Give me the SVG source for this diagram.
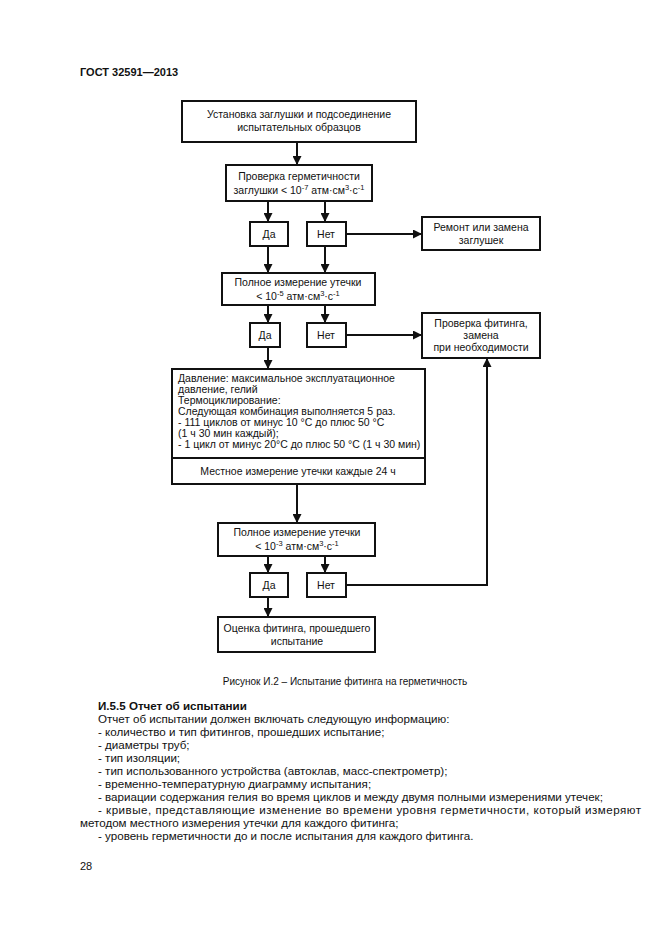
<svg xmlns="http://www.w3.org/2000/svg" width="661" height="936" viewBox="0 0 661 936">
<style>
text{font-family:"Liberation Sans",Arial,sans-serif;fill:#111}
.b{fill:#fff;stroke:#111;stroke-width:2}
.t{font-size:10.5px;text-anchor:middle}
.l{font-size:10.5px}
.c{fill:none;stroke:#111;stroke-width:2}
.body{font-size:11.6px}
.s{font-size:7.5px}
</style>
<defs>
<marker id="ah" viewBox="0 0 10 10" refX="10" refY="5" markerWidth="4.5" markerHeight="4.5" orient="auto" markerUnits="strokeWidth">
<path d="M0,0 L10,5 L0,10 z" fill="#111"/>
</marker>
</defs>
<rect width="661" height="936" fill="#fff"/>
<text x="80" y="76" style="font-size:11px;font-weight:bold">ГОСТ 32591—2013</text>

<g id="connectors">
<path class="c" d="M297,142 V165" marker-end="url(#ah)"/>
<path class="c" d="M268,201 V222" marker-end="url(#ah)"/>
<path class="c" d="M325,201 V222" marker-end="url(#ah)"/>
<path class="c" d="M346,234 H422" marker-end="url(#ah)"/>
<path class="c" d="M268,246 V273" marker-end="url(#ah)"/>
<path class="c" d="M325,246 V273" marker-end="url(#ah)"/>
<path class="c" d="M268,305 V323" marker-end="url(#ah)"/>
<path class="c" d="M325,305 V323" marker-end="url(#ah)"/>
<path class="c" d="M346,335 H422" marker-end="url(#ah)"/>
<path class="c" d="M268,347 V369" marker-end="url(#ah)"/>
<path class="c" d="M297,484 V523" marker-end="url(#ah)"/>
<path class="c" d="M268,556 V573" marker-end="url(#ah)"/>
<path class="c" d="M325,556 V573" marker-end="url(#ah)"/>
<path class="c" d="M346,585 H487 V358" marker-end="url(#ah)"/>
<path class="c" d="M268,597 V617" marker-end="url(#ah)"/>
</g>

<g id="n1"><rect class="b" x="182" y="101" width="234" height="41"/>
<text class="t" x="299" y="118">Установка заглушки и подсоединение</text>
<text class="t" x="299" y="131">испытательных образцов</text></g>

<g id="n2"><rect class="b" x="226" y="165" width="146" height="36"/>
<text class="t" x="299" y="180">Проверка герметичности</text>
<text class="t" x="299" y="194">заглушки &lt; 10<tspan class="s" dy="-4">-7</tspan><tspan dy="4"> атм·см</tspan><tspan class="s" dy="-4">3</tspan><tspan dy="4">·с</tspan><tspan class="s" dy="-4">-1</tspan></text></g>

<g id="yes1"><rect class="b" x="250" y="222" width="38" height="24"/><text class="t" x="269" y="238">Да</text></g>
<g id="no1"><rect class="b" x="307" y="222" width="39" height="24"/><text class="t" x="326" y="238">Нет</text></g>

<g id="n3"><rect class="b" x="422" y="217" width="118" height="33"/>
<text class="t" x="481" y="231">Ремонт или замена</text>
<text class="t" x="481" y="244">заглушек</text></g>

<g id="n4"><rect class="b" x="222" y="273" width="153" height="32"/>
<text class="t" x="298" y="286">Полное измерение утечки</text>
<text class="t" x="298" y="300">&lt; 10<tspan class="s" dy="-4">-5</tspan><tspan dy="4"> атм·см</tspan><tspan class="s" dy="-4">3</tspan><tspan dy="4">·с</tspan><tspan class="s" dy="-4">-1</tspan></text></g>

<g id="yes2"><rect class="b" x="250" y="323" width="30" height="24"/><text class="t" x="265" y="339">Да</text></g>
<g id="no2"><rect class="b" x="307" y="323" width="39" height="24"/><text class="t" x="326" y="339">Нет</text></g>

<g id="n5"><rect class="b" x="422" y="313" width="118" height="45"/>
<text class="t" x="481" y="327">Проверка фитинга,</text>
<text class="t" x="481" y="339">замена</text>
<text class="t" x="481" y="351">при необходимости</text></g>

<g id="n6"><rect class="b" x="172" y="369" width="253" height="115"/>
<line class="c" x1="172" y1="458" x2="425" y2="458"/>
<text class="l" x="178" y="382">Давление: максимальное эксплуатационное</text>
<text class="l" x="178" y="393">давление, гелий</text>
<text class="l" x="178" y="404">Термоциклирование:</text>
<text class="l" x="178" y="415">Следующая комбинация выполняется 5 раз.</text>
<text class="l" x="178" y="426">- 111 циклов от минус 10 °С до плюс 50 °С</text>
<text class="l" x="178" y="437">(1 ч 30 мин каждый);</text>
<text class="l" x="178" y="448">- 1 цикл от минус 20°С до плюс 50 °С (1 ч 30 мин)</text>
<text class="t" x="298" y="475">Местное измерение утечки каждые 24 ч</text></g>

<g id="n7"><rect class="b" x="218" y="523" width="157" height="33"/>
<text class="t" x="297" y="536">Полное измерение утечки</text>
<text class="t" x="297" y="550">&lt; 10<tspan class="s" dy="-4">-3</tspan><tspan dy="4"> атм·см</tspan><tspan class="s" dy="-4">3</tspan><tspan dy="4">·с</tspan><tspan class="s" dy="-4">-1</tspan></text></g>

<g id="yes3"><rect class="b" x="250" y="573" width="38" height="24"/><text class="t" x="269" y="589">Да</text></g>
<g id="no3"><rect class="b" x="307" y="573" width="39" height="24"/><text class="t" x="326" y="589">Нет</text></g>

<g id="n8"><rect class="b" x="218" y="617" width="157" height="35"/>
<text class="t" x="297" y="632">Оценка фитинга, прошедшего</text>
<text class="t" x="297" y="645">испытание</text></g>

<text x="345" y="685" style="font-size:10px;text-anchor:middle">Рисунок И.2 – Испытание фитинга на герметичность</text>

<g id="body">
<text class="body" x="98" y="710" style="font-weight:bold">И.5.5 Отчет об испытании</text>
<text class="body" x="98" y="723">Отчет об испытании должен включать следующую информацию:</text>
<text class="body" x="98" y="736">- количество и тип фитингов, прошедших испытание;</text>
<text class="body" x="98" y="749">- диаметры труб;</text>
<text class="body" x="98" y="762">- тип изоляции;</text>
<text class="body" x="98" y="775">- тип использованного устройства (автоклав, масс-спектрометр);</text>
<text class="body" x="98" y="788">- временно-температурную диаграмму испытания;</text>
<text class="body" x="98" y="801">- вариации содержания гелия во время циклов и между двумя полными измерениями утечек;</text>
<text class="body" x="98" y="814" textLength="543" lengthAdjust="spacing">- кривые, представляющие изменение во времени уровня герметичности, который измеряют</text>
<text class="body" x="80" y="827">методом местного измерения утечки для каждого фитинга;</text>
<text class="body" x="98" y="840">- уровень герметичности до и после испытания для каждого фитинга.</text>
</g>
<text x="80" y="870" style="font-size:11px">28</text>
</svg>
